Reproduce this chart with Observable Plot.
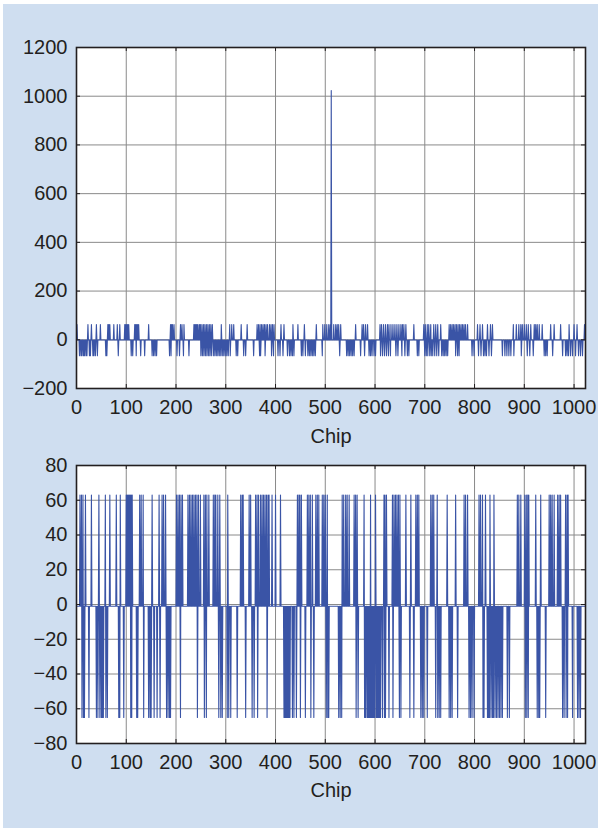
<!DOCTYPE html>
<html>
<head>
<meta charset="utf-8">
<script src="https://cdn.jsdelivr.net/npm/d3@7"></script>
<script src="https://cdn.jsdelivr.net/npm/@observablehq/plot@0.6"></script>
<style>
  html, body { margin: 0; padding: 0; background: #ffffff; }
  #backdrop { position: absolute; left: 3px; top: 4px; width: 595px; height: 824px; background: #cfdef0; }
  #autoPanel, #crossPanel { position: absolute; left: 0; }
  #autoPanel { top: 0; }
  #crossPanel { top: 450px; }
</style>
</head>
<body>
<div id="backdrop"></div>
<div id="autoPanel"></div>
<div id="crossPanel"></div>
<script>
// Chip axis
const chipCount = 1024;
const chipTicks = [0, 100, 200, 300, 400, 500, 600, 700, 800, 900, 1000];
const xLabel = "Chip";

// Correlation levels of the code family
const baseLevel = -1;
const highLevel = 63;
const lowLevel = -65;

// Upper panel: autocorrelation, main peak and sidelobe chips
const autoTicks = [-200, 0, 200, 400, 600, 800, 1000, 1200];
const autoPeakChip = 512;
const autoPeakValue = 1023;
const autoHigh = [1, 23, 30, 40, 48, 63, 65, 67, 75, 82, 87, 97, 99, 101, 103, 105, 117, 119, 121, 123, 125, 145,
  189, 191, 193, 196, 209, 212, 216, 236, 238, 240, 242, 244, 247, 249, 252, 255, 258, 261, 264, 267, 270, 273,
  291, 308, 312, 316, 331, 343, 363, 366, 369, 372, 375, 378, 381, 384, 388, 391, 394, 397, 411, 417, 435, 445,
  458, 482, 495, 499, 503, 507, 510,
  517, 521, 524, 527, 531, 561, 574, 577, 581, 585, 610, 613, 617, 621, 625, 628, 632, 636, 640, 644, 648, 652,
  655, 658, 662, 678, 698, 701, 705, 708, 712, 718, 722, 726, 732, 749, 752, 755, 758, 761, 764, 767, 770, 773,
  776, 779, 782, 786, 806, 811, 816, 826, 832, 836, 878, 884, 889, 893, 896, 900, 904, 908, 913, 920, 923, 926,
  930, 936, 953, 960, 973, 990, 1000, 1006, 1021, 1023];
const autoLow = [6, 9, 11, 14, 16, 19, 21, 26, 28, 33, 35, 38, 42, 59, 61, 84, 110, 113, 120, 129, 137, 152, 155,
  158, 161, 187, 190, 202, 207, 215, 226, 250, 253, 256, 259, 262, 265, 268, 271, 275, 278, 281, 284, 287, 290,
  293, 296, 299, 302, 305, 309, 321, 324, 336, 340, 356, 368, 370, 379, 392, 396, 405, 409, 415, 424, 428, 431,
  434, 437, 452, 455, 460, 465, 468, 471, 474, 477, 480, 494,
  529, 543, 546, 549, 552, 555, 558, 571, 579, 588, 591, 594, 598, 601, 611, 615, 619, 623, 627, 631, 642, 646,
  654, 660, 665, 668, 685, 688, 700, 703, 706, 710, 713, 716, 720, 724, 728, 734, 737, 740, 743, 746, 762, 766,
  769, 795, 799, 808, 813, 818, 821, 824, 829, 834, 856, 861, 865, 869, 873, 879, 894, 906, 911, 918, 940, 943,
  946, 957, 977, 983, 986, 989, 993, 997, 1003, 1009, 1013, 1017];

// Lower panel: cross-correlation chips
const crossTicks = [-80, -60, -40, -20, 0, 20, 40, 60, 80];
const crossHigh = [7, 10, 13, 18, 30, 45, 58, 67, 80, 88, 100, 102, 104, 106, 108, 110, 112, 127, 130, 134, 152,
  166, 172, 175, 179, 201, 204, 207, 210, 213, 224, 227, 230, 233, 236, 239, 242, 245, 249, 256, 259, 262, 266,
  275, 278, 280, 284, 288, 304, 330, 333, 335, 347, 350, 360, 363, 366, 370, 373, 376, 379, 382, 385, 387, 393,
  400, 410, 444, 447, 449, 452, 464, 467, 470, 474, 481, 484, 487, 494, 497, 500, 504,
  534, 537, 541, 544, 548, 558, 561, 564, 578, 591, 601, 618, 620, 623, 635, 638, 641, 644, 647, 650, 662, 672,
  682, 685, 688, 712, 715, 718, 725, 745, 762, 779, 782, 786, 809, 812, 816, 822, 831, 839, 886, 889, 893, 901,
  904, 907, 909, 923, 933, 950, 953, 956, 960, 967, 970, 973, 983, 986, 988];
const crossLow = [11, 14, 16, 25, 40, 43, 47, 50, 52, 54, 59, 62, 85, 87, 95, 109, 111, 121, 123, 135, 145, 148,
  150, 156, 162, 168, 181, 184, 187, 189, 209, 243, 257, 261, 286, 290, 293, 303, 306, 310, 323, 340, 353, 357,
  364, 383, 417, 419, 421, 423, 425, 427, 429, 434, 437, 442, 450, 460, 471, 477, 502, 505, 507,
  527, 530, 533, 562, 566, 579, 581, 584, 586, 588, 590, 592, 594, 596, 598, 600, 603, 605, 607, 609, 611, 615,
  619, 621, 628, 636, 649, 652, 670, 678, 692, 695, 698, 705, 722, 726, 729, 732, 749, 752, 755, 766, 789, 792,
  795, 799, 817, 819, 826, 828, 830, 833, 836, 838, 841, 844, 847, 850, 853, 856, 866, 870, 902, 905, 908, 926,
  929, 931, 943, 977, 980, 984, 987, 997, 1007, 1010, 1013];

// Build a chip-by-chip table from the listed chips
function buildSeries(high, low, peaks = []) {
  const values = new Array(chipCount).fill(baseLevel);
  high.forEach(c => { values[c] = highLevel; });
  low.forEach(c => { values[c] = lowLevel; });
  peaks.forEach(([c, v]) => { values[c] = v; });
  return values.map((value, chip) => ({chip, value}));
}

const autoSeries = buildSeries(autoHigh, autoLow, [[autoPeakChip, autoPeakValue]]);
const crossSeries = buildSeries(crossHigh, crossLow);

const formatTick = d => (d < 0 ? "\u2212" : "") + Math.abs(d);
const lineColor = "#3a54a6";
const gridColor = "#8a8a8a";
const inkColor = "#231f20";
const fontFamily = "'Liberation Sans', Arial, Helvetica, sans-serif";

function drawPanel({series, yTicks, height, marginTop, marginBottom, xPadding, labelOffset}) {
  const marginLeft = 76, marginRight = 15, width = 600;
  const xDomain = [0, chipCount - 1];
  const yDomain = [yTicks[0], yTicks[yTicks.length - 1]];
  const plotW = width - marginLeft - marginRight;
  const plotH = height - marginTop - marginBottom;
  // inward tick length of 4px, expressed in data units
  const tx = 4 * (xDomain[1] - xDomain[0]) / plotW;
  const ty = 4 * (yDomain[1] - yDomain[0]) / plotH;
  return Plot.plot({
    width, height, marginLeft, marginRight, marginTop, marginBottom,
    x: {domain: xDomain},
    y: {domain: yDomain},
    style: {background: "transparent", fontFamily, fontSize: "20px", color: inkColor},
    marks: [
      Plot.frame({fill: "white"}),
      Plot.gridX(chipTicks, {stroke: gridColor, strokeOpacity: 1, strokeWidth: 1}),
      Plot.gridY(yTicks, {stroke: gridColor, strokeOpacity: 1, strokeWidth: 1}),
      Plot.line(series, {x: "chip", y: "value", stroke: lineColor, strokeWidth: 1.1}),
      Plot.ruleX(chipTicks, {y1: yDomain[0], y2: yDomain[0] + ty, stroke: inkColor}),
      Plot.ruleX(chipTicks, {y1: yDomain[1], y2: yDomain[1] - ty, stroke: inkColor}),
      Plot.ruleY(yTicks, {x1: xDomain[0], x2: xDomain[0] + tx, stroke: inkColor}),
      Plot.ruleY(yTicks, {x1: xDomain[1], x2: xDomain[1] - tx, stroke: inkColor}),
      Plot.frame({stroke: inkColor, strokeWidth: 1.6}),
      Plot.axisX(chipTicks, {tickSize: 0, tickPadding: xPadding, tickFormat: formatTick, fontSize: 20, label: null}),
      Plot.axisY(yTicks, {tickSize: 0, tickPadding: 9, tickFormat: formatTick, fontSize: 20, label: null}),
      Plot.text([xLabel], {text: d => d, frameAnchor: "bottom", dy: labelOffset, fontSize: 20, fill: inkColor})
    ]
  });
}

document.getElementById("autoPanel").appendChild(drawPanel({
  series: autoSeries, yTicks: autoTicks, height: 460, marginTop: 47, marginBottom: 72, xPadding: 11, labelOffset: 54
}));
document.getElementById("crossPanel").appendChild(drawPanel({
  series: crossSeries, yTicks: crossTicks, height: 380, marginTop: 15, marginBottom: 87, xPadding: 11, labelOffset: 53
}));
</script>
</body>
</html>
